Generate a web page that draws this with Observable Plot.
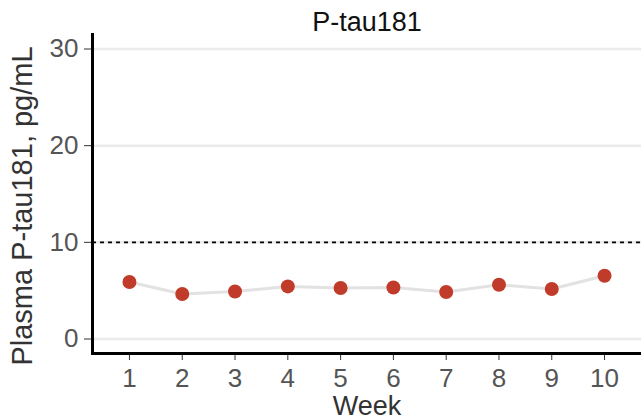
<!DOCTYPE html>
<html>
<head>
<meta charset="utf-8">
<script src="https://cdn.jsdelivr.net/npm/d3@7"></script>
<script src="https://cdn.jsdelivr.net/npm/@observablehq/plot@0.6"></script>
<style>
  html, body { margin: 0; padding: 0; background: #fff; }
  svg { display: block; }
</style>
</head>
<body>
<div id="chart"></div>
<script>
// Weekly plasma P-tau181 measurements
const weeks = [1, 2, 3, 4, 5, 6, 7, 8, 9, 10];
const ptau = [5.89, 4.65, 4.92, 5.44, 5.27, 5.33, 4.86, 5.61, 5.17, 6.54];
const yTicks = [0, 10, 20, 30];
const threshold = [10];
const titleText = "P-tau181";
const xLabel = "Week";
const yLabel = "Plasma P-tau181, pg/mL";

const data = weeks.map((w, i) => ({week: w, value: ptau[i]}));
const font = "'Liberation Sans', Arial, Helvetica, sans-serif";

const chart = Plot.plot({
  width: 641,
  height: 420,
  marginLeft: 92,
  marginRight: 0,
  marginTop: 34,
  marginBottom: 67,
  style: {fontFamily: font, background: "#fff"},
  x: {type: "linear", domain: [0.3, 10.7]},
  y: {domain: [-1.5, 31.5]},
  marks: [
    // horizontal gridlines
    Plot.ruleY(yTicks, {stroke: "#ebebeb", strokeWidth: 2.5}),
    // reference threshold
    Plot.ruleY(threshold, {stroke: "#000", strokeWidth: 1.8, strokeDasharray: "4,4"}),
    // connecting line and points
    Plot.line(data, {x: "week", y: "value", stroke: "#e2e2e2", strokeWidth: 3}),
    Plot.dot(data, {x: "week", y: "value", r: 7, fill: "#c13b2a", stroke: "none"}),
    // axes
    Plot.axisX({
      ticks: weeks, tickFormat: d => String(d), tickSize: 7, tickPadding: 8,
      tickWidth: 3, stroke: "#333", fontSize: 26, color: "#555", label: null
    }),
    Plot.axisY({
      ticks: yTicks, tickFormat: d => String(d), tickSize: 8, tickPadding: 6,
      tickWidth: 2, stroke: "#333", fontSize: 26, color: "#555", label: null
    }),
    Plot.frame({anchor: "left", stroke: "#000", strokeWidth: 3}),
    Plot.frame({anchor: "bottom", stroke: "#000", strokeWidth: 3}),
    // titles
    Plot.text([titleText], {
      frameAnchor: "top", lineAnchor: "middle", dy: -12,
      fontSize: 27, fill: "#111"
    }),
    Plot.text([xLabel], {
      frameAnchor: "bottom", lineAnchor: "middle", dy: 53,
      fontSize: 27, fill: "#333"
    }),
    Plot.text([yLabel], {
      frameAnchor: "left", textAnchor: "middle", lineAnchor: "middle",
      rotate: -90, dx: -70, dy: 12,
      fontSize: 29, fill: "#333"
    })
  ]
});

document.getElementById("chart").appendChild(chart);
</script>
</body>
</html>
